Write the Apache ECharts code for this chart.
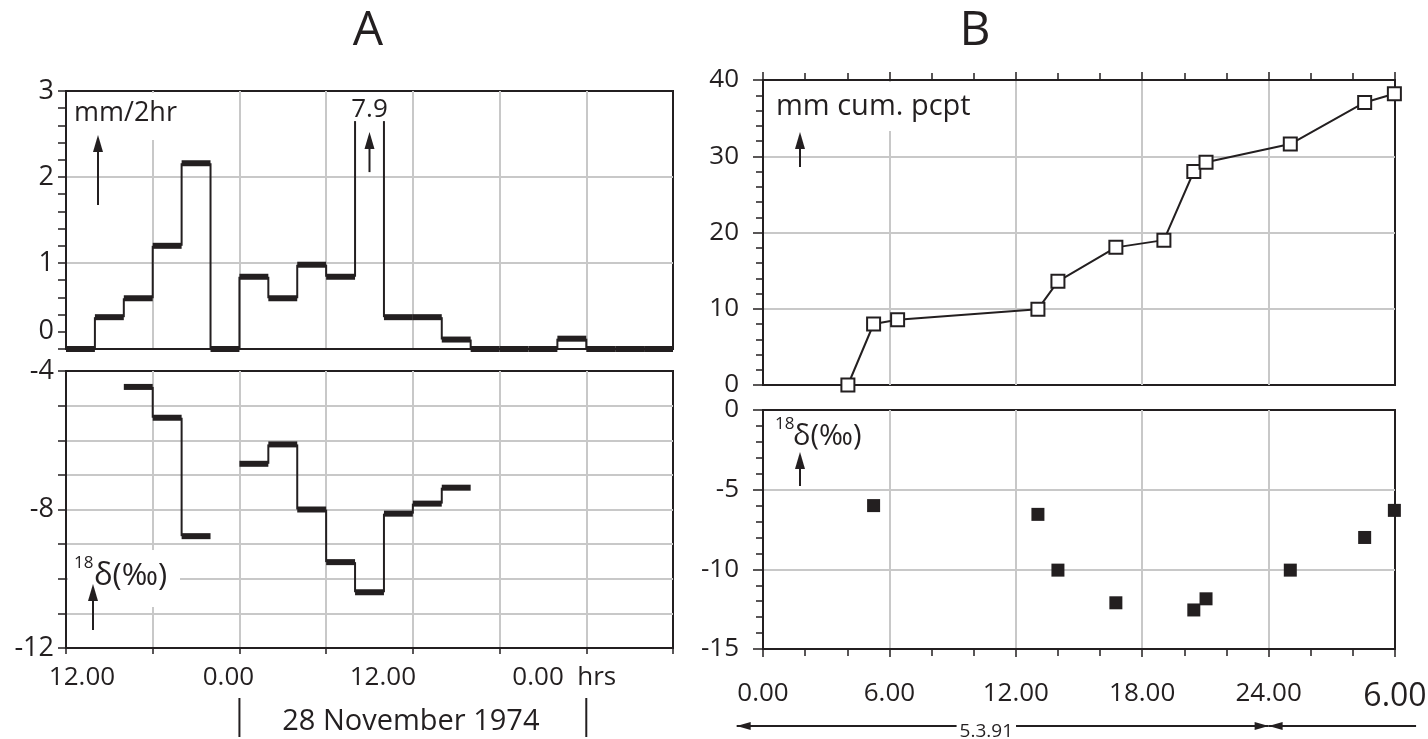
<!DOCTYPE html>
<html><head><meta charset="utf-8">
<script src="https://cdn.jsdelivr.net/npm/echarts@6/dist/echarts.min.js"></script>
<style>html,body{margin:0;padding:0;background:#fff}#c{width:1428px;height:739px}</style>
</head><body><div id="c"></div>
<script>
// ---------------- DATA ----------------
// Panel A: 2-hour bins, hour 0 = 12.00 on 27 November 1974
const A_BIN_HOURS = 2;
const A_RAIN = [0, 0.37, 0.59, 1.20, 2.16, 0, 0.84, 0.59, 0.98, 0.84, 7.9, 0.37, 0.37, 0.11, 0, 0, 0, 0.12, 0, 0, 0];
const A_ISO  = [null, null, -4.46, -5.35, -8.77, null, -6.68, -6.12, -8.0, -9.52, -10.39, -8.12, -7.83, -7.37, null, null, null, null, null, null, null];
const A_RAIN_TICK_VALUES = [0.2, 1, 2, 3];
const A_RAIN_TICK_LABELS = ['0', '1', '2', '3'];
const A_ISO_TICK_VALUES = [-4, -8, -12];
const A_ISO_TICK_LABELS = ['-4', '-8', '-12'];
const A_X_TICK_HOURS = [0, 12, 24, 36];
const A_X_TICK_LABELS = ['12.00', '0.00', '12.00', '0.00  hrs'];
const A_DATE_HOURS = [12, 36];
const A_DATE_LABEL = '28 November 1974';

// Panel B: hours from 0.00 on 5.3.91
const B_HOURS = [4.03, 5.25, 6.39, 13.05, 14.0, 16.75, 19.03, 20.45, 21.03, 25.03, 28.56, 29.97];
const B_CUM   = [0, 8.0, 8.55, 9.95, 13.6, 18.05, 19.0, 28.0, 29.2, 31.6, 37.05, 38.2];
const B_ISO   = [null, -6.0, null, -6.55, -10.05, -12.1, null, -12.55, -11.85, -10.05, -8.0, -6.3];
const B_X_TICK_HOURS = [0, 6, 12, 18, 24, 30];
const B_X_TICK_LABELS = ['0.00', '6.00', '12.00', '18.00', '24.00', '6.00'];
const B_SPAN_START = [-1.25, 24];
const B_SPAN_END = [24, 31];
const B_SPAN_LABEL = '5.3.91';

// ---------------- STYLE ----------------
const FONT = "'Open Sans', 'Noto Sans', sans-serif";
const INK = '#231f20';
const GRIDC = '#c8c8c8';
const A_RAIN_MAX = 3;
const OFFSCALE_CAP = 2.65;            // where off-scale bins are cut (data units)
const A_X_LABEL_SHIFT = [16, -11, -30, -22];  // px shifts of hand-placed labels
const THICK = 6;

const axisLineStyle = { show: true, onZero: false, lineStyle: { color: INK, width: 2 } };
const tickStyle = { color: INK, width: 1.5 };
const splitGray = { show: true, showMinLine: false, showMaxLine: false, lineStyle: { color: GRIDC, width: 2 } };
const border = { show: true, borderColor: INK, borderWidth: 2, backgroundColor: 'transparent', outerBoundsMode: 'none', containLabel: false };

function lookup(vals, labels, v) {
  const k = vals.findIndex(t => Math.abs(t - v) < 1e-6);
  return k < 0 ? '' : labels[k];
}

const chart = echarts.init(document.getElementById('c'));

function rainItem(params, api) {
  const i = params.dataIndex;
  const v = A_RAIN[i];
  const x0 = i * A_BIN_HOURS, x1 = x0 + A_BIN_HOURS;
  const cv = v > A_RAIN_MAX ? OFFSCALE_CAP : v;
  const p0 = api.coord([x0, cv]);
  const p1 = api.coord([x1, cv]);
  const ch = [];
  if (v <= A_RAIN_MAX) {
    ch.push({ type: 'line', shape: { x1: p0[0], y1: p0[1], x2: p1[0], y2: p1[1] }, style: { stroke: INK, lineWidth: THICK } });
  } else {
    const cx = (p0[0] + p1[0]) / 2;
    ch.push({ type: 'text', style: { text: String(v), x: cx, y: p0[1] - 12, fill: INK, fontSize: 26, fontFamily: FONT, align: 'center', verticalAlign: 'middle' } });
    ch.push({ type: 'line', shape: { x1: cx, y1: p0[1] + 51, x2: cx, y2: p0[1] + 20 }, style: { stroke: INK, lineWidth: 2 } });
    ch.push({ type: 'polygon', shape: { points: [[cx, p0[1] + 11], [cx - 5, p0[1] + 28], [cx + 5, p0[1] + 28]] }, style: { fill: INK } });
  }
  if (i > 0) {
    const pv = A_RAIN[i - 1] > A_RAIN_MAX ? OFFSCALE_CAP : A_RAIN[i - 1];
    const q = api.coord([x0, pv]);
    ch.push({ type: 'line', shape: { x1: p0[0], y1: q[1], x2: p0[0], y2: p0[1] }, style: { stroke: INK, lineWidth: 2 } });
  }
  return { type: 'group', children: ch };
}

function isoItem(params, api) {
  const i = params.dataIndex;
  const v = A_ISO[i];
  if (v === null) return { type: 'group', children: [] };
  const x0 = i * A_BIN_HOURS, x1 = x0 + A_BIN_HOURS;
  const p0 = api.coord([x0, v]);
  const p1 = api.coord([x1, v]);
  const ch = [{ type: 'line', shape: { x1: p0[0], y1: p0[1], x2: p1[0], y2: p1[1] }, style: { stroke: INK, lineWidth: THICK } }];
  if (i > 0 && A_ISO[i - 1] !== null) {
    const q = api.coord([x0, A_ISO[i - 1]]);
    ch.push({ type: 'line', shape: { x1: p0[0], y1: q[1], x2: p0[0], y2: p0[1] }, style: { stroke: INK, lineWidth: 2 } });
  }
  return { type: 'group', children: ch };
}

const aRich = {};
A_X_LABEL_SHIFT.forEach((s, k) => {
  aRich['s' + k] = { fontSize: 26, fontFamily: FONT, color: INK, padding: s >= 0 ? [0, 0, 0, 2 * s] : [0, -2 * s, 0, 0] };
});

const A_HOURS_SPAN = A_RAIN.length * A_BIN_HOURS;

const option = {
  animation: false,
  backgroundColor: '#fff',
  grid: [
    Object.assign({ left: 66, top: 91, width: 607, height: 258 }, border),
    Object.assign({ left: 66, top: 371, width: 607, height: 277 }, border),
    Object.assign({ left: 763, top: 80, width: 632, height: 305 }, border),
    Object.assign({ left: 763, top: 410, width: 632, height: 239 }, border)
  ],
  xAxis: [
    { gridIndex: 0, type: 'value', position: 'bottom', min: 0, max: A_HOURS_SPAN, interval: 6,
      axisLine: axisLineStyle, axisTick: { show: false }, axisLabel: { show: false }, splitLine: splitGray },
    { gridIndex: 1, type: 'value', position: 'bottom', min: 0, max: A_HOURS_SPAN, interval: 6,
      axisLine: axisLineStyle, axisTick: { show: true, length: 6, lineStyle: tickStyle },
      axisLabel: { show: true, margin: 17, showMinLabel: true, showMaxLabel: true,
        formatter: v => { const k = A_X_TICK_HOURS.indexOf(v); return k < 0 ? '' : '{s' + k + '|' + A_X_TICK_LABELS[k] + '}'; },
        rich: aRich },
      splitLine: splitGray },
    { gridIndex: 2, type: 'value', position: 'top', min: 0, max: 30, interval: 6,
      axisLine: axisLineStyle, axisTick: { show: true, length: 8, lineStyle: tickStyle },
      minorTick: { show: true, splitNumber: 3, length: 7, lineStyle: tickStyle },
      axisLabel: { show: false }, splitLine: splitGray },
    { gridIndex: 3, type: 'value', position: 'bottom', min: 0, max: 30, interval: 6,
      axisLine: axisLineStyle, axisTick: { show: true, length: 8, lineStyle: tickStyle },
      minorTick: { show: true, splitNumber: 3, length: 7, lineStyle: tickStyle },
      axisLabel: { show: true, margin: 32, showMinLabel: true, showMaxLabel: true,
        formatter: v => { const k = B_X_TICK_HOURS.indexOf(v); if (k < 0) return ''; return (k === B_X_TICK_HOURS.length - 1 ? '{big|' : '{n|') + B_X_TICK_LABELS[k] + '}'; },
        rich: { n: { fontSize: 26, fontFamily: FONT, color: INK }, big: { fontSize: 32, fontFamily: FONT, color: INK } } },
      splitLine: splitGray }
  ],
  yAxis: [
    { gridIndex: 0, type: 'value', position: 'left', min: 0, max: A_RAIN_MAX, interval: 1,
      axisLine: axisLineStyle, axisTick: { show: true, length: 8, lineStyle: tickStyle },
      minorTick: { show: true, splitNumber: 5, length: 8, lineStyle: tickStyle },
      axisLabel: { show: true, margin: 12, fontSize: 27, fontFamily: FONT, color: INK,
        formatter: v => Math.abs(v) < 1e-6 ? '' : lookup(A_RAIN_TICK_VALUES, A_RAIN_TICK_LABELS, v) },
      splitLine: splitGray },
    { gridIndex: 0, type: 'value', position: 'left', min: 0, max: A_RAIN_MAX, interval: 0.2,
      axisLine: { show: false }, axisTick: { show: false }, splitLine: { show: false },
      axisLabel: { show: true, margin: 12, fontSize: 27, fontFamily: FONT, color: INK,
        formatter: v => Math.abs(v - Math.round(v)) < 1e-6 ? '' : lookup(A_RAIN_TICK_VALUES, A_RAIN_TICK_LABELS, v) } },
    { gridIndex: 1, type: 'value', position: 'left', min: -12, max: -4, interval: 1,
      axisLine: axisLineStyle, axisTick: { show: true, length: 8, lineStyle: tickStyle },
      axisLabel: { show: true, margin: 12, fontSize: 27, fontFamily: FONT, color: INK,
        formatter: v => lookup(A_ISO_TICK_VALUES, A_ISO_TICK_LABELS, v) },
      splitLine: splitGray },
    { gridIndex: 2, type: 'value', position: 'left', min: 0, max: 40, interval: 10,
      axisLine: axisLineStyle, axisTick: { show: true, length: 10, lineStyle: tickStyle },
      minorTick: { show: true, splitNumber: 5, length: 7, lineStyle: tickStyle },
      axisLabel: { show: true, margin: 24, fontSize: 26, fontFamily: FONT, color: INK },
      splitLine: splitGray },
    { gridIndex: 3, type: 'value', position: 'left', min: -15, max: 0, interval: 5,
      axisLine: axisLineStyle, axisTick: { show: true, length: 10, lineStyle: tickStyle },
      minorTick: { show: true, splitNumber: 5, length: 7, lineStyle: tickStyle },
      axisLabel: { show: true, margin: 24, fontSize: 26, fontFamily: FONT, color: INK },
      splitLine: splitGray }
  ],
  series: [
    { type: 'custom', xAxisIndex: 0, yAxisIndex: 0, z: 3, clip: false,
      data: A_RAIN.map((v, i) => [i * A_BIN_HOURS, Math.min(v, A_RAIN_MAX)]), renderItem: rainItem },
    { type: 'custom', xAxisIndex: 1, yAxisIndex: 2, z: 3, clip: false,
      data: A_ISO.map((v, i) => [i * A_BIN_HOURS, v === null ? -8 : v]), renderItem: isoItem },
    { type: 'line', xAxisIndex: 2, yAxisIndex: 3, z: 4, clip: false,
      data: B_HOURS.map((h, i) => [h, B_CUM[i]]),
      symbol: 'rect', symbolSize: 13, showAllSymbol: true,
      lineStyle: { color: INK, width: 2 },
      itemStyle: { color: '#fff', borderColor: INK, borderWidth: 2, opacity: 1 } },
    { type: 'scatter', xAxisIndex: 3, yAxisIndex: 4, z: 4, clip: false,
      data: B_HOURS.map((h, i) => [h, B_ISO[i]]).filter(d => d[1] !== null),
      symbol: 'rect', symbolSize: 13, itemStyle: { color: INK, opacity: 1 } }
  ]
};
chart.setOption(option);

// ---------------- ANNOTATIONS ----------------
function txt(text, x, y, size, extra) {
  return { type: 'text', z: 30, style: Object.assign({ text, x, y, fill: INK, fontSize: size, fontFamily: FONT, align: 'left', verticalAlign: 'middle' }, extra || {}) };
}
function whiteBox(x, y, w, h) {
  return { type: 'rect', z: 20, shape: { x, y, width: w, height: h }, style: { fill: '#fff' } };
}
function upArrow(x, tip, tail) {
  return [
    { type: 'line', z: 30, shape: { x1: x, y1: tail, x2: x, y2: tip + 10 }, style: { stroke: INK, lineWidth: 2 } },
    { type: 'polygon', z: 30, shape: { points: [[x, tip], [x - 5, tip + 17], [x + 5, tip + 17]] }, style: { fill: INK } }
  ];
}
function px(g, x, y) { return chart.convertToPixel({ gridIndex: g }, [x, y]); }

const G = [];
G.push(txt('A', 368, 31, 48, { align: 'center' }));
G.push(txt('B', 975, 31, 48, { align: 'center' }));
// panel A top label
G.push(whiteBox(68, 93, 117, 47));
G.push(txt('mm/2hr', 74, 113, 27));
G.push(...upArrow(98, 135, 205));
// panel A bottom label
G.push(whiteBox(68, 550, 112, 57));
G.push(txt('18', 74, 563, 17));
G.push(txt('δ(‰)', 94, 576, 31));
G.push(...upArrow(93, 584, 630));
// panel B top label
G.push(whiteBox(765, 82, 220, 49));
G.push(txt('mm cum. pcpt', 776, 107, 29));
G.push(...upArrow(800, 132, 167));
// panel B bottom label
G.push(txt('18', 775, 424, 17));
G.push(txt('δ(‰)', 793, 437, 29));
G.push(...upArrow(800, 452, 486));

// A date bracket
const xa = px(1, A_DATE_HOURS[0], -12)[0];
const xb = px(1, A_DATE_HOURS[1], -12)[0];
[xa, xb].forEach(x => G.push({ type: 'line', z: 30, shape: { x1: x, y1: 698, x2: x, y2: 737 }, style: { stroke: INK, lineWidth: 2 } }));
G.push(txt(A_DATE_LABEL, (xa + xb) / 2 - 2, 722, 29, { align: 'center' }));

// B date arrows
const yArr = 726;
B_SPAN_START.forEach((h0, k) => {
  const x0 = px(3, h0, -15)[0];
  const x1 = px(3, B_SPAN_END[k], -15)[0];
  G.push({ type: 'line', z: 30, shape: { x1: x0, y1: yArr, x2: x1, y2: yArr }, style: { stroke: INK, lineWidth: 2 } });
  G.push({ type: 'polygon', z: 31, shape: { points: [[x0, yArr], [x0 + 14, yArr - 4], [x0 + 14, yArr + 4]] }, style: { fill: INK } });
  if (k === 0) {
    G.push({ type: 'polygon', z: 31, shape: { points: [[x1, yArr], [x1 - 14, yArr - 4], [x1 - 14, yArr + 4]] }, style: { fill: INK } });
  }
});
const xl = px(3, 10.6, -15)[0];
G.push(txt(B_SPAN_LABEL, xl, 732, 19, { align: 'center', backgroundColor: '#fff', padding: [0, 3, 0, 3] }));

chart.setOption({ graphic: G });
</script>
</body></html>
